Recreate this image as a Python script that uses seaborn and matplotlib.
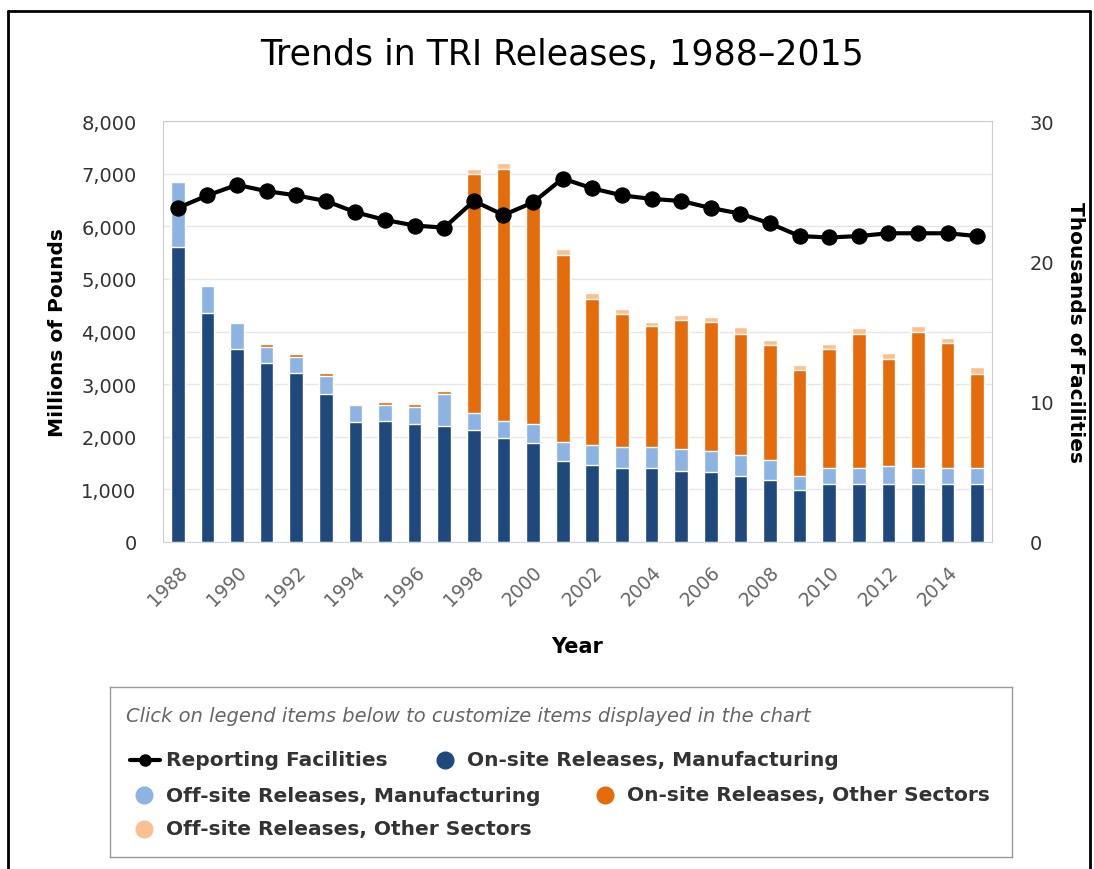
import numpy as np
import pandas as pd
import matplotlib
matplotlib.use("Agg")
import matplotlib.pyplot as plt
import seaborn as sns
from matplotlib.lines import Line2D

years = list(range(1988, 2016))

# millions of pounds
onsite_mfg = [5610, 4360, 3665, 3400, 3220, 2820, 2275, 2305, 2235, 2195,
              2125, 1975, 1875, 1545, 1470, 1400, 1400, 1355, 1325, 1245,
              1175, 985, 1100, 1100, 1100, 1100, 1100, 1100]
offsite_mfg = [1240, 505, 505, 300, 300, 325, 330, 305, 325, 625,
               335, 330, 365, 360, 375, 400, 400, 410, 410, 410,
               380, 260, 305, 305, 335, 305, 305, 305]
onsite_other = [0, 0, 0, 60, 55, 60, 0, 55, 70, 55,
                4525, 4790, 4305, 3550, 2770, 2525, 2310, 2450, 2440, 2290,
                2185, 2020, 2260, 2545, 2040, 2590, 2370, 1785]
offsite_other = [0, 0, 0, 0, 0, 0, 0, 0, 0, 0,
                 105, 115, 30, 110, 115, 100, 65, 100, 105, 145,
                 100, 95, 95, 110, 110, 110, 105, 140]

# thousands of facilities
facilities = [23.8, 24.7, 25.45, 25.0, 24.7, 24.3, 23.5, 22.95, 22.55, 22.4,
              24.3, 23.3, 24.2, 25.9, 25.2, 24.7, 24.45, 24.3, 23.8, 23.4,
              22.7, 21.8, 21.7, 21.8, 22.0, 22.0, 22.0, 21.8]

series_names = ["On-site Releases, Manufacturing", "Off-site Releases, Manufacturing",
                "On-site Releases, Other Sectors", "Off-site Releases, Other Sectors"]
colors = ["#1f497d", "#8db3e2", "#e46c0a", "#fac090"]

W, H = 1094, 870


def fx(x):
    return x / W


def fy(y):
    return 1 - y / H


sns.set_style("white")
plt.rcParams['font.family'] = ['DejaVu Sans']

fig = plt.figure(figsize=(W / 100, H / 100), dpi=100)
ax = fig.add_axes([fx(163), fy(543), fx(992) - fx(163), fy(122) - fy(543)])

df = pd.DataFrame({"Year": [str(y) for y in years],
                   series_names[0]: onsite_mfg, series_names[1]: offsite_mfg,
                   series_names[2]: onsite_other, series_names[3]: offsite_other})
cum = df[series_names].cumsum(axis=1)

# stacked bars drawn as overlapping cumulative totals, tallest first
for name, col in reversed(list(zip(series_names, colors))):
    sns.barplot(x=df["Year"], y=cum[name], color=col, saturation=1, width=0.46,
                edgecolor="white", linewidth=1, ax=ax)

ax.set_xlim(-0.5, len(years) - 0.5)
ax.set_ylim(0, 8000)
ax.set_yticks(range(0, 8001, 1000))
ax.set_yticklabels([f"{v:,}" for v in range(0, 8001, 1000)], fontsize=14, color="#333333")
ax.set_xticks(range(0, len(years), 2))
ax.set_xticklabels([str(y) for y in years[::2]], rotation=45, ha="right",
                   rotation_mode="anchor", fontsize=13.5, color="#666666")
ax.tick_params(axis="x", length=10, width=1, color="#ccd6eb", direction="out", pad=4)
ax.tick_params(axis="y", length=0, pad=19)
ax.yaxis.grid(True, color="#e6e6e6", linewidth=1)
ax.set_axisbelow(True)
for s in ["left", "top", "right"]:
    ax.spines[s].set_color("#cccccc")
ax.spines["bottom"].set_color("#ccd6eb")
ax.set_xlabel("Year", fontsize=15, fontweight="bold", color="#000000", labelpad=20)
ax.set_ylabel("Millions of Pounds", fontsize=14.5, fontweight="bold", color="#000000", labelpad=10)

ax2 = ax.twinx()
sns.lineplot(x=np.arange(len(years)), y=facilities, ax=ax2, color="black",
             linewidth=3, marker="o", markersize=11, markeredgecolor="black")
ax2.set_ylim(0, 30)
ax2.set_yticks([0, 10, 20, 30])
ax2.set_yticklabels(["0", "10", "20", "30"], fontsize=14, color="#333333")
ax2.tick_params(axis="y", length=0, pad=27)
ax2.set_ylabel("Thousands of Facilities", fontsize=14.5, fontweight="bold",
               rotation=270, labelpad=22, color="#000000")
for s in ax2.spines.values():
    s.set_visible(False)
ax.set_xlim(-0.5, len(years) - 0.5)

fig.text(fx(562), fy(55), "Trends in TRI Releases, 1988\u20132015", fontsize=25,
         ha="center", va="center", color="#000000")

# outer frame
for xs, ys in [([8, 8], [12, 870]), ([8, 1090], [12, 12]), ([1090, 1090], [12, 870])]:
    fig.add_artist(Line2D([fx(v) for v in xs], [fy(v) for v in ys], color="black", linewidth=2))

# legend box
lg = fig.add_axes([fx(110), fy(858), fx(1012) - fx(110), fy(688) - fy(858)])
lg.set_xlim(110, 1012)
lg.set_ylim(858, 688)
lg.set_xticks([])
lg.set_yticks([])
for s in lg.spines.values():
    s.set_color("#999999")
    s.set_linewidth(1)
lg.text(126, 717, "Click on legend items below to customize items displayed in the chart",
        fontsize=14, style="italic", color="#666666", va="center")
lg.plot([130, 160], [761, 761], color="black", linewidth=3)
lg.plot([145], [761], marker="o", color="black", markersize=8)
items = [(166, 761, None, "Reporting Facilities"),
         (467, 761, colors[0], series_names[0]),
         (166, 796, colors[1], series_names[1]),
         (627, 796, colors[2], series_names[2]),
         (166, 830, colors[3], series_names[3])]
for x, y, c, label in items:
    if c is not None:
        lg.plot([x - 22], [y], marker="o", color=c, markersize=12)
    lg.text(x, y, label, fontsize=14.5, fontweight="bold", color="#333333", va="center")

fig.savefig("out.png", dpi=100)
